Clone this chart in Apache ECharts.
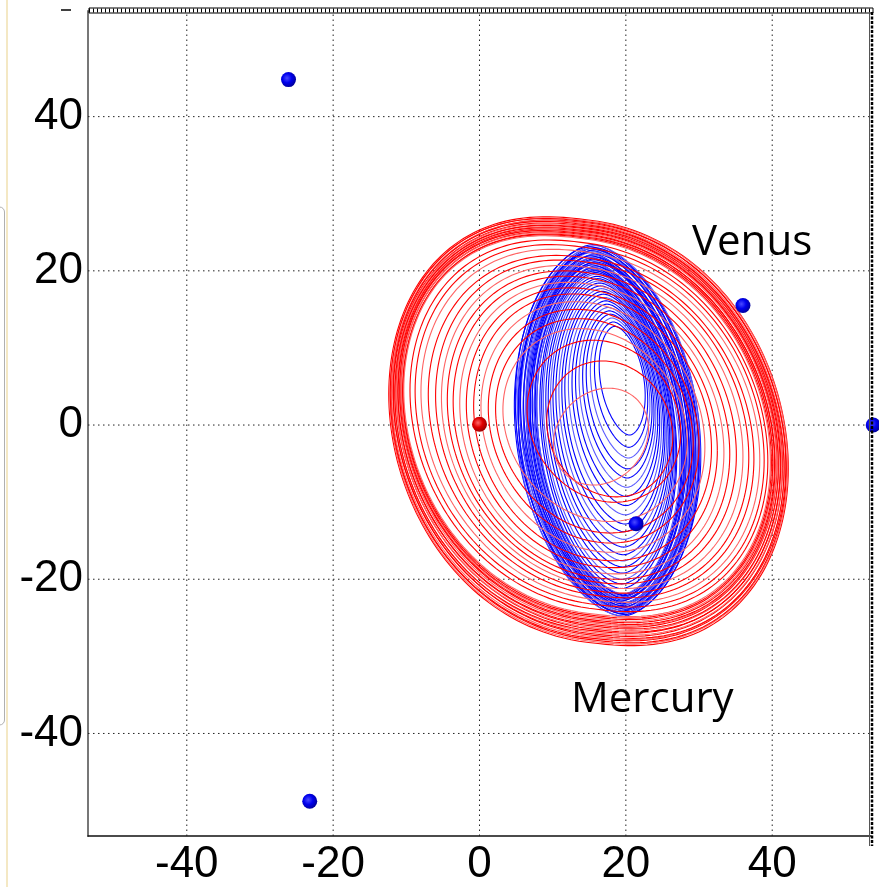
<!DOCTYPE html>
<html>
<head>
<meta charset="utf-8">
<script src="https://cdn.jsdelivr.net/npm/echarts@6/dist/echarts.min.js"></script>
<style>
  html, body { margin: 0; padding: 0; background: #fff; }
  #chart { width: 879px; height: 887px; }
</style>
</head>
<body>
<div id="chart"></div>
<script>
// Axis extents and labelled ticks
const xRange = [-53.5, 53.5];
const yRange = [-53.3, 53.7];
const xTicks = [-40, -20, 0, 20, 40];
const yTicks = [-40, -20, 0, 20, 40];

// Orbit loops, one row per revolution:
// [centreX, centreY, halfWidth, halfHeight, shearX, shearY, pointedness]
const redOrbitLoops = [
  [14.90, -0.80, 27.30, 27.40, 0, 4.8, 0.88],
  [14.93, -0.77, 27.18, 27.24, 0, 4.7, 0.88],
  [14.87, -0.73, 27.06, 27.07, 0, 4.9, 0.88],
  [14.91, -0.70, 26.95, 26.90, 0, 4.6, 0.88],
  [14.84, -0.66, 26.83, 26.74, 0, 4.8, 0.88],
  [14.90, -0.63, 26.71, 26.57, 0, 5.0, 0.88],
  [14.82, -0.60, 26.59, 26.40, 0, 4.7, 0.88],
  [14.86, -0.56, 26.47, 26.24, 0, 4.8, 0.88],
  [14.80, -0.53, 26.36, 26.07, 0, 4.6, 0.88],
  [14.85, -0.49, 26.24, 25.90, 0, 4.9, 0.88],
  [14.78, -0.46, 26.12, 25.74, 0, 4.7, 0.88],
  [14.83, -0.42, 26.00, 25.57, 0, 4.8, 0.88],
  [14.77, -0.39, 25.88, 25.41, 0, 4.6, 0.88],
  [14.81, -0.35, 25.77, 25.24, 0, 4.7, 0.88],
  [14.75, -0.32, 25.65, 25.07, 0, 4.9, 0.88],
  [14.79, -0.29, 25.53, 24.91, 0, 4.7, 0.88],
  [14.73, -0.25, 25.41, 24.74, 0, 4.8, 0.88],
  [14.78, -0.22, 25.29, 24.58, 0, 4.6, 0.88],
  [14.72, -0.18, 25.17, 24.41, 0, 4.7, 0.88],
  [14.70, -0.15, 25.05, 24.25, 0, 4.7, 0.88],
  [14.95, -0.10, 24.45, 23.66, 0, 4.6, 0.90],
  [15.05, -0.10, 23.85, 23.07, 0, 4.5, 0.90],
  [15.15, -0.10, 23.15, 22.47, 0, 4.4, 0.91],
  [15.25, -0.20, 22.25, 21.80, 0, 4.2, 0.92],
  [15.40, -0.20, 21.40, 21.23, 0, 4.0, 0.92],
  [15.40, -0.25, 20.60, 20.60, 0, 3.8, 0.93],
  [15.35, -0.30, 19.75, 19.98, 0, 3.6, 0.94],
  [15.30, -0.35, 18.90, 19.35, 0, 3.4, 0.95],
  [15.35, -0.40, 18.05, 18.63, 0, 3.2, 0.95],
  [15.35, -0.35, 17.15, 17.90, 0, 3.0, 0.96],
  [15.45, -0.30, 16.25, 17.07, 0, 2.8, 0.97],
  [15.50, -0.25, 15.30, 16.04, 0, 2.6, 0.98],
  [15.60, -0.15, 14.40, 14.96, 0, 2.4, 0.98],
  [15.70, -0.10, 13.50, 13.72, 0, 2.2, 1],
  [15.80,  0.00, 12.60, 12.34, 0, 2.0, 1],
  [17.00,  0.50, 10.50, 10.40, 0, 1.5, 1],
  [17.80, -0.50,  8.60,  8.80, 0.5, 0.5, 1],
  [16.60, -1.50,  6.50,  6.20, 0, -1.0, 1]
];

const blueOrbitLoops = [
  [17.50, -0.70, 12.60, 24.10, 2.05, 0, 1.2],
  [17.55, -0.71, 12.48, 23.98, 1.70, 0, 1.2],
  [17.45, -0.72, 12.36, 23.85, 2.40, 0, 1.2],
  [17.60, -0.72, 12.24, 23.73, 1.80, 0, 1.2],
  [17.50, -0.73, 12.12, 23.60, 2.30, 0, 1.2],
  [17.40, -0.74, 12.00, 23.48, 1.60, 0, 1.2],
  [17.55, -0.75, 11.88, 23.36, 2.20, 0, 1.2],
  [17.50, -0.76, 11.76, 23.23, 1.90, 0, 1.2],
  [17.45, -0.76, 11.64, 23.11, 2.50, 0, 1.2],
  [17.60, -0.77, 11.52, 22.98, 1.70, 0, 1.2],
  [17.55, -0.78, 11.40, 22.86, 2.10, 0, 1.2],
  [17.50, -0.79, 11.28, 22.74, 2.30, 0, 1.2],
  [17.65, -0.80, 11.16, 22.61, 1.80, 0, 1.2],
  [17.55, -0.80, 11.04, 22.49, 2.20, 0, 1.2],
  [17.60, -0.81, 10.92, 22.36, 1.90, 0, 1.2],
  [17.70, -0.82, 10.80, 22.24, 2.00, 0, 1.2],
  [17.50, -0.83, 10.68, 22.12, 2.40, 0, 1.2],
  [17.60, -0.84, 10.56, 21.99, 1.70, 0, 1.2],
  [17.55, -0.84, 10.44, 21.87, 2.10, 0, 1.2],
  [17.65, -0.85, 10.32, 21.74, 1.90, 0, 1.2],
  [17.60, -0.86, 10.20, 21.62, 2.20, 0, 1.2],
  [17.70, -0.87, 10.08, 21.50, 1.80, 0, 1.2],
  [17.60, -0.88,  9.96, 21.37, 2.00, 0, 1.2],
  [17.65, -0.88,  9.84, 21.25, 2.10, 0, 1.2],
  [17.70, -0.89,  9.72, 21.12, 1.90, 0, 1.2],
  [17.60, -0.90,  9.60, 21.00, 2.00, 0, 1.2],
  [17.60, -0.60,  9.20, 20.60, 1.80, 0, 1.15],
  [17.66, -0.41,  9.01, 20.19, 1.78, 0, 1.15],
  [17.71, -0.22,  8.83, 19.79, 1.75, 0, 1.15],
  [17.79,  0.04,  8.58, 19.25, 1.72, 0, 1.15],
  [17.87,  0.29,  8.33, 18.70, 1.69, 0, 1.15],
  [17.94,  0.54,  8.08, 18.16, 1.66, 0, 1.15],
  [18.02,  0.80,  7.84, 17.62, 1.62, 0, 1.15],
  [18.11,  1.11,  7.53, 16.94, 1.58, 0, 1.15],
  [18.21,  1.43,  7.22, 16.26, 1.54, 0, 1.15],
  [18.30,  1.75,  6.91, 15.59, 1.50, 0, 1.15],
  [18.40,  2.07,  6.60, 14.91, 1.46, 0, 1.15],
  [18.51,  2.45,  6.22, 14.10, 1.42, 0, 1.15],
  [18.63,  2.83,  5.85, 13.28, 1.37, 0, 1.15],
  [18.74,  3.21,  5.48, 12.47, 1.32, 0, 1.15],
  [18.85,  3.59,  5.11, 11.66, 1.27, 0, 1.15],
  [18.97,  3.97,  4.74, 10.84, 1.22, 0, 1.15],
  [19.08,  4.35,  4.36, 10.03, 1.18, 0, 1.15],
  [19.22,  4.80,  3.93,  9.08, 1.12, 0, 1.15],
  [19.35,  5.24,  3.50,  8.13, 1.06, 0, 1.15],
  [19.50,  5.75,  3.00,  7.05, 1.00, 0, 1.15]
];

// Bodies drawn as shaded spheres
const blueBodies = [[-26.1, 44.8], [36.0, 15.5], [21.4, -12.8], [-23.2, -48.8], [53.8, 0]];
const redBodies = [[0, 0.1]];

// Annotations
const annotations = [
  { text: 'Venus', left: 692, y: 246 },
  { text: 'Mercury', left: 571, y: 703 }
];

// Closed loop traced through the cartesian scales
function loopRenderer(strong, light) {
  return function (params, api) {
    const cx = api.value(0), cy = api.value(1);
    const rx = api.value(2), ry = api.value(3);
    const shx = api.value(4), shy = api.value(5), q = api.value(6);
    const steps = 200;
    const pts = [];
    for (let k = 0; k <= steps; k++) {
      const t = (2 * Math.PI * k) / steps;
      const c = Math.cos(t), s = Math.sin(t);
      const cq = Math.sign(c) * Math.pow(Math.abs(c), q);
      pts.push(api.coord([cx + rx * cq - shx * s, cy + ry * s - shy * c]));
    }
    return {
      type: 'polyline',
      shape: { points: pts },
      style: { stroke: params.dataIndex % 3 === 1 ? light : strong, lineWidth: 1.1, fill: null }
    };
  };
}

function gridRenderer(vertical) {
  return function (params, api) {
    const v = api.value(vertical ? 0 : 1);
    const a = vertical ? api.coord([v, yRange[0]]) : api.coord([xRange[0], v]);
    const b = vertical ? api.coord([v, yRange[1]]) : api.coord([xRange[1], v]);
    return {
      type: 'line',
      shape: { x1: a[0], y1: a[1], x2: b[0], y2: b[1] },
      style: { stroke: '#222', lineWidth: 1, lineDash: [1.5, 3.5] }
    };
  };
}

function sphere(hi, base, dark) {
  return new echarts.graphic.RadialGradient(0.4, 0.4, 0.62, [
    { offset: 0, color: hi },
    { offset: 0.5, color: base },
    { offset: 1, color: dark }
  ]);
}

const chart = echarts.init(document.getElementById('chart'), null, { renderer: 'canvas' });

const labelFont = { fontSize: 44, color: '#000', fontFamily: '"Liberation Sans", Arial, sans-serif' };

chart.setOption({
  animation: false,
  backgroundColor: '#fff',
  grid: { left: 88, right: 8, top: 11, bottom: 42, containLabel: false },
  xAxis: {
    type: 'value', min: xRange[0], max: xRange[1],
    axisLine: { show: true, onZero: false, lineStyle: { color: '#111', width: 1.5 } },
    axisTick: { show: false },
    splitLine: { show: false },
    axisLabel: Object.assign({ customValues: xTicks, margin: 7 }, labelFont)
  },
  yAxis: {
    type: 'value', min: yRange[0], max: yRange[1],
    axisLine: { show: true, onZero: false, lineStyle: { color: '#777', width: 2 } },
    axisTick: { show: false },
    splitLine: { show: false },
    axisLabel: Object.assign({ customValues: yTicks, margin: 5 }, labelFont)
  },
  series: [
    {
      type: 'custom', name: 'gridX', z: 1, silent: true,
      data: xTicks.map(v => [v, 0]), renderItem: gridRenderer(true)
    },
    {
      type: 'custom', name: 'gridY', z: 1, silent: true,
      data: yTicks.map(v => [0, v]), renderItem: gridRenderer(false)
    },
    {
      type: 'custom', name: 'blueOrbit', z: 2, silent: true,
      data: blueOrbitLoops, encode: { x: 0, y: 1 },
      renderItem: loopRenderer('#0000ff', '#5a5aff')
    },
    {
      type: 'custom', name: 'redOrbit', z: 3, silent: true,
      data: redOrbitLoops, encode: { x: 0, y: 1 },
      renderItem: loopRenderer('#ff0000', '#ff6464')
    },
    {
      type: 'scatter', name: 'blueBodies', z: 5, clip: false, silent: true,
      symbolSize: 15, data: blueBodies,
      itemStyle: { color: sphere('#4a4aff', '#0000ee', '#00009a'), opacity: 1 }
    },
    {
      type: 'scatter', name: 'redBodies', z: 5, clip: false, silent: true,
      symbolSize: 15, data: redBodies,
      itemStyle: { color: sphere('#ff6a6a', '#e00000', '#9a0000'), opacity: 1 }
    }
  ],
  graphic: [
    // window edge details on the left
    { type: 'line', shape: { x1: 7, y1: 0, x2: 7, y2: 887 }, style: { stroke: '#f4e8c4', lineWidth: 2 }, z: 1 },
    { type: 'rect', shape: { x: -20, y: 207, width: 24.5, height: 518, r: 5 }, style: { stroke: '#b0b0b0', fill: 'none', lineWidth: 1 }, z: 1 },
    { type: 'line', shape: { x1: 61, y1: 10, x2: 71, y2: 10 }, style: { stroke: '#000', lineWidth: 1.5 }, z: 1 },
    // top border
    { type: 'rect', shape: { x: 89, y: 8, width: 784, height: 5 }, style: { stroke: '#000', fill: '#fff', lineWidth: 1 }, z: 10 },
    { type: 'line', shape: { x1: 89, y1: 10.5, x2: 873, y2: 10.5 }, style: { stroke: '#000', lineWidth: 4, lineDash: [1, 3] }, z: 10 },
    // right border
    { type: 'line', shape: { x1: 869.5, y1: 12, x2: 869.5, y2: 846 }, style: { stroke: '#555', lineWidth: 1 }, z: 10 },
    { type: 'line', shape: { x1: 872, y1: 12, x2: 872, y2: 846 }, style: { stroke: '#000', lineWidth: 2.5, lineDash: [3, 1.5] }, z: 10 }
  ].concat(annotations.map(a => ({
    type: 'text', z: 20, left: a.left, top: a.y - 24,
    style: { text: a.text, fill: '#000', font: '42px "Open Sans", "Noto Sans", sans-serif' }
  })))
});
</script>
</body>
</html>
